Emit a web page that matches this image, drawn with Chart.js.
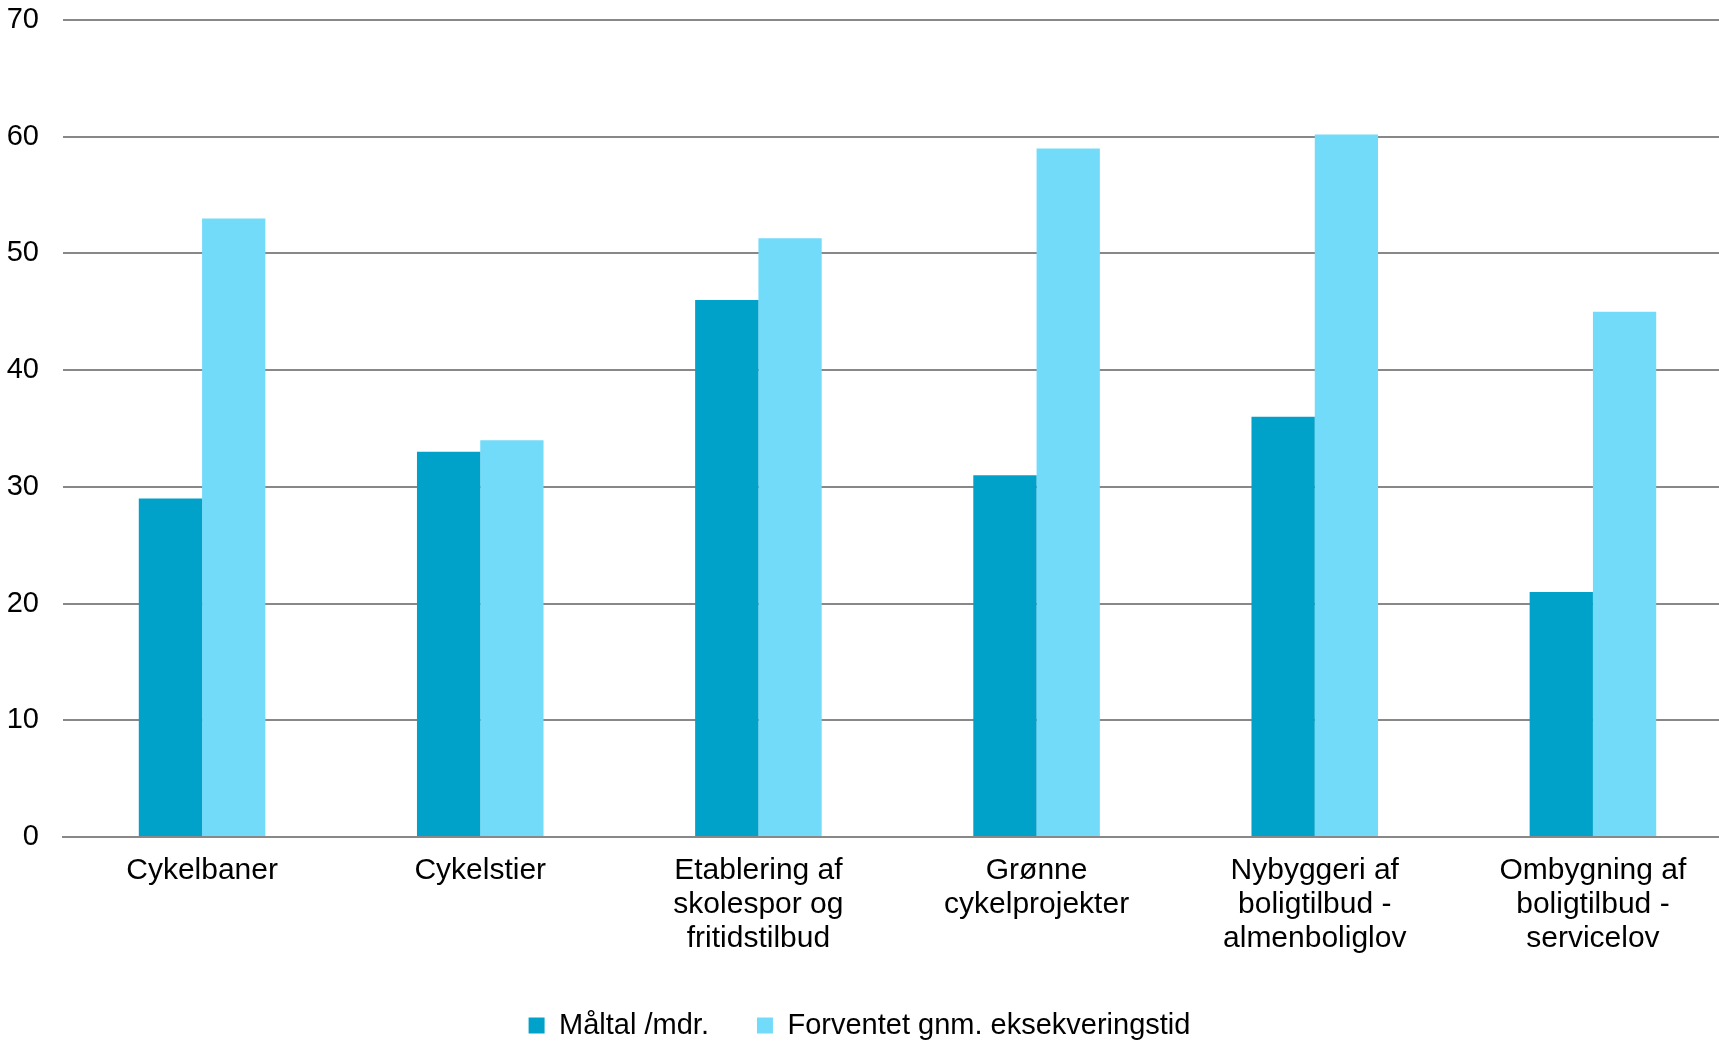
<!DOCTYPE html>
<html>
<head>
<meta charset="utf-8">
<script src="https://cdn.jsdelivr.net/npm/chart.js@4/dist/chart.umd.min.js"></script>
<style>
  html, body { margin: 0; padding: 0; background: #fff; overflow: hidden; }
  #wrap { width: 1719px; height: 1042px; position: relative; }
</style>
</head>
<body>
<div id="wrap"><canvas id="c"></canvas></div>
<script>
const categories = [
  "Cykelbaner",
  "Cykelstier",
  ["Etablering af", "skolespor og", "fritidstilbud"],
  ["Grønne", "cykelprojekter"],
  ["Nybyggeri af", "boligtilbud -", "almenboliglov"],
  ["Ombygning af", "boligtilbud -", "servicelov"]
];
const seriesNames = ["Måltal /mdr.", "Forventet gnm. eksekveringstid"];
const maaltal = [29, 33, 46, 31, 36, 21];
const forventet = [53, 34, 51.3, 59, 60.2, 45];
const yTicks = [0, 10, 20, 30, 40, 50, 60, 70];

const extendX = {
  id: 'extendX',
  afterLayout(chart) {
    const x = chart.scales.x;
    x.right = chart.width + 13;
    x.width = x.right - x.left;
    x.configure();
  }
};

new Chart(document.getElementById('c'), {
  type: 'bar',
  data: {
    labels: categories,
    datasets: [
      { label: seriesNames[0], data: maaltal, backgroundColor: '#00A2C9', borderWidth: 0 },
      { label: seriesNames[1], data: forventet, backgroundColor: '#73DBFA', borderWidth: 0 }
    ]
  },
  options: {
    responsive: true,
    maintainAspectRatio: false,
    animation: false,
    layout: { padding: { top: 20, left: 0, right: 0, bottom: -8 } },
    datasets: { bar: { categoryPercentage: 0.455, barPercentage: 1.0 } },
    plugins: {
      tooltip: { enabled: false },
      legend: {
        position: 'bottom',
        labels: {
          font: { family: "'Liberation Sans', Arial, sans-serif", size: 29 },
          color: '#000',
          boxWidth: 16,
          boxHeight: 16,
          padding: 48
        }
      }
    },
    scales: {
      x: {
        grid: { display: false, drawTicks: false },
        border: { display: true, color: '#888888', width: 2 },
        ticks: {
          color: '#000',
          padding: 17,
          maxRotation: 0,
          autoSkip: false,
          font: { family: "'Liberation Sans', Arial, sans-serif", size: 30, lineHeight: 1.13 }
        },
        afterFit(s) { s.height = 126; }
      },
      y: {
        min: 0,
        max: 70,
        afterBuildTicks(s) { s.ticks = yTicks.map(v => ({ value: v })); },
        grid: { color: '#888888', lineWidth: 2, drawTicks: false },
        border: { display: false },
        ticks: {
          color: '#000',
          padding: 24,
          font: { family: "'Liberation Sans', Arial, sans-serif", size: 29 }
        },
        afterFit(s) { s.width = 63; s.paddingTop = 0; s.paddingBottom = 0; }
      }
    }
  },
  plugins: [extendX]
});
</script>
</body>
</html>
